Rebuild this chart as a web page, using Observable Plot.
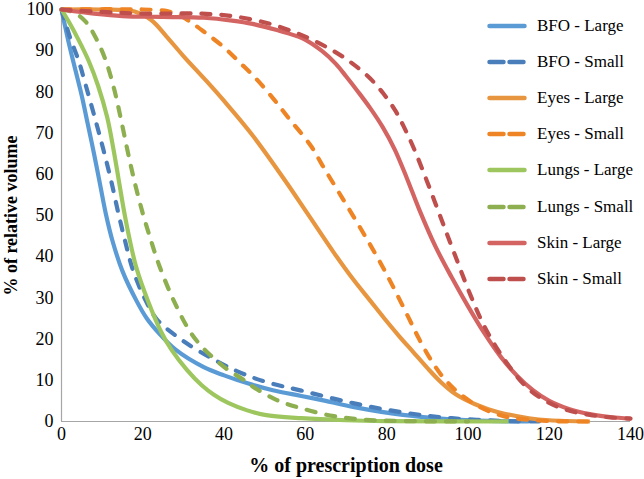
<!DOCTYPE html>
<html>
<head>
<meta charset="utf-8">
<script src="https://cdn.jsdelivr.net/npm/d3@7"></script>
<script src="https://cdn.jsdelivr.net/npm/@observablehq/plot@0.6"></script>
<style>
  body { margin: 0; background: #fff; }
  #wrap { position: relative; width: 644px; height: 479px; font-family: "Liberation Serif", "DejaVu Serif", serif; }
  #legend { position: absolute; left: 487px; top: 8px; }
  .row { display: flex; align-items: center; height: 36.1px; font-size: 17px; color: #000; font-family: "Liberation Serif", "DejaVu Serif", serif; }
  .row svg { width: 40px; height: 8px; margin-right: 10px; }
  svg text { font-family: "Liberation Serif", "DejaVu Serif", serif; }
  g[aria-label="x-axis label"] text { font-weight: bold; font-size: 20px; }
  g[aria-label="y-axis label"] text { font-weight: bold; font-size: 18px; }
</style>
</head>
<body>
<div id="wrap"><div id="chart"></div><div id="legend"></div></div>
<script>
// Series names (legend order)
const seriesNames = ["BFO - Large", "BFO - Small", "Eyes - Large", "Eyes - Small", "Lungs - Large", "Lungs - Small", "Skin - Large", "Skin - Small"];

// [% of prescription dose, % of relative volume]
const bfoLarge = [[0,100],[2,91],[3.5,85],[5,79],[6.4,72.5],[8,65],[9.5,57.5],[11,50],[12.5,44],[15,36.5],[18.4,29.4],[21,25],[24,21.4],[28,17.5],[35,13.2],[40,11.2],[46,9.2],[52,7.6],[59,6.2],[65,5],[72,3.5],[84,1.6],[95,0.6],[105,0.15],[115,0]];
const bfoSmall = [[0,100],[2,93.5],[4.2,87.6],[6,81.5],[8.4,73],[10.3,66],[12.2,58.5],[14,50.5],[15.6,44],[17.5,37],[20.4,30],[23.3,25],[28.3,20.7],[34,17],[43,12.3],[50,9.7],[59,7.5],[72,4.4],[84,2.2],[96,0.8],[110,0.1],[120,0]];
const eyesLarge = [[0,100],[10,100],[18,99.5],[22,97.5],[25.8,93.5],[30,88.7],[35.7,82.6],[40,77.8],[46.9,69.6],[55,58.5],[60.5,50.5],[67,41],[72,34.2],[75.9,29.4],[79.2,25.3],[83,20.8],[86.6,16.8],[90,13],[93.3,9.6],[97,6.6],[101.5,4.3],[105,3],[109,1.9],[115,0.8],[120,0.3],[130,0]];
const eyesSmall = [[0,100],[20,100],[26,99.6],[29,98.6],[32,96.8],[35.2,94.5],[40,90.8],[44,87],[47.6,83.5],[52,78.5],[56,73.5],[61.3,67],[64.3,62],[68,56],[72,49.5],[76,42.8],[79.2,37.2],[82,31.9],[85.4,25.2],[88,20],[91,14.8],[94,10.6],[97.3,7.3],[101.7,4.2],[106.5,2],[110,1],[114,0.5],[120,0.1],[130,0]];
const lungsLarge = [[0,100],[1.7,97.2],[4,93],[6.7,87.5],[9,81.5],[11.2,74],[12.8,66],[14.1,58.5],[15.4,51],[16.7,44.5],[18.4,37.4],[21.3,29.2],[24.6,21.6],[27,17.5],[30.8,12.6],[34.5,8.8],[37.5,6.5],[41,4.5],[45.7,2.7],[50,1.6],[59,0.8],[70,0.3],[80,0.1],[110,0]];
const lungsSmall = [[0,100],[3,99.3],[6,97],[8.5,93],[10.9,87.6],[13,80.5],[14.6,73.5],[16.3,65.5],[17.9,58.5],[20,50.5],[22,44],[24,38],[27.5,29.6],[31.5,22],[34.5,18.2],[37.5,15.3],[41,12.5],[45,10],[47,8.5],[53,5.2],[59,3.2],[67,1.3],[75,0.4],[85,0.1],[100,0]];
const skinLarge = [[0,100],[8,99],[15,98.4],[25,98.2],[35,98],[42,97.3],[47,96.5],[53,95],[59.3,93],[64,90],[67.5,86.8],[70,83.8],[73,80],[76,76],[79,71.5],[82,66],[85,59],[88,51.5],[92,42.5],[96,35],[100,28],[104,21.5],[108,15.8],[112,11.2],[116,7.6],[120,5],[125,3],[130,1.8],[135,1.1],[140,0.7]];
const skinSmall = [[0,100],[10,99.4],[20,99],[34.5,99],[42.7,98.3],[51,96.6],[57.6,94.4],[62.6,92.2],[67.5,89.6],[71.7,86.8],[75.9,83.3],[79.2,79.6],[82.1,75.5],[84.1,71.8],[86.6,66.5],[89.9,58.4],[93.3,49.5],[96.5,41.2],[100.7,30.5],[104.1,23],[109,15],[114.6,8.2],[120,4.5],[125,2.6],[130,1.6],[135,1],[140,0.7]];

const xTicks = [0, 20, 40, 60, 80, 100, 120, 140];
const yTicks = [0, 10, 20, 30, 40, 50, 60, 70, 80, 90, 100];
const colors = ["#5B9BD5", "#4A7EBB", "#E8953F", "#EE8424", "#9DC75E", "#8DAF4F", "#D36462", "#BE4F4D"];
const dashed = [false, true, false, true, false, true, false, true];

const seriesData = [bfoLarge, bfoSmall, eyesLarge, eyesSmall, lungsLarge, lungsSmall, skinLarge, skinSmall];
const rows = seriesData.map((arr, i) => arr.map(([dose, volume]) => ({series: seriesNames[i], dose, volume})));

const dashPattern = "9,11";

const chart = Plot.plot({
  width: 644,
  height: 479,
  marginLeft: 61,
  marginRight: 14,
  marginTop: 9,
  marginBottom: 58,
  style: {fontFamily: "Liberation Serif, DejaVu Serif, serif", fontSize: "18px", color: "#000", background: "#fff"},
  x: {domain: [0, 140], ticks: xTicks, tickSize: 0, tickPadding: 6, label: "% of prescription dose", labelAnchor: "center", labelOffset: 50, labelArrow: "none"},
  y: {domain: [0, 100], ticks: yTicks, tickSize: 0, tickPadding: 8, label: "% of relative volume", labelAnchor: "center", labelOffset: 57, labelArrow: "none"},
  marks: [
    Plot.ruleX([0], {stroke: "#a6a6a6", strokeWidth: 1.2}),
    Plot.ruleY([0], {stroke: "#a6a6a6", strokeWidth: 1.2}),
    ...rows.map((data, i) => Plot.line(data, {
      x: "dose", y: "volume", stroke: colors[i], strokeWidth: 4.2,
      curve: "catmull-rom",
      strokeLinecap: dashed[i] ? "round" : "butt",
      strokeDasharray: dashed[i] ? dashPattern : null
    }))
  ]
});
document.getElementById("chart").appendChild(chart);

// legend
const legend = document.getElementById("legend");
seriesNames.forEach((name, i) => {
  const row = document.createElement("div");
  row.className = "row";
  const dash = dashed[i] ? `stroke-dasharray="14,6" stroke-linecap="round"` : `stroke-linecap="round"`;
  row.innerHTML = `<svg viewBox="0 0 40 8"><line x1="2.5" y1="4" x2="${dashed[i] ? 38 : 37.5}" y2="4" stroke="${colors[i]}" stroke-width="4.5" ${dash}></line></svg><span>${name}</span>`;
  legend.appendChild(row);
});
</script>
</body>
</html>
